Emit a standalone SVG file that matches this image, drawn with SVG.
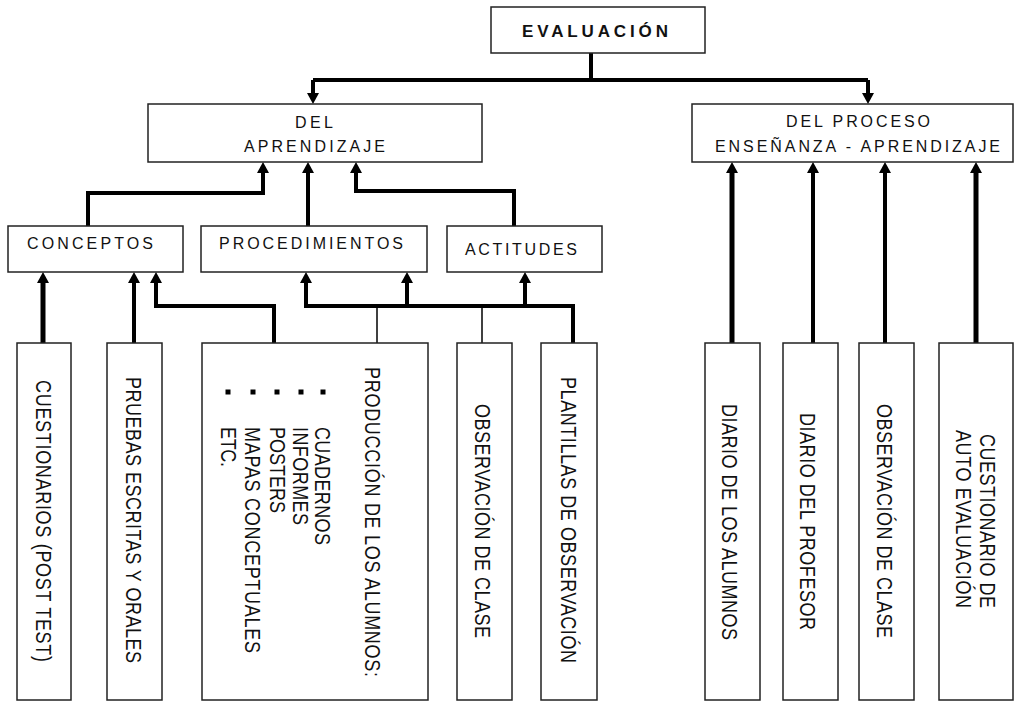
<svg xmlns="http://www.w3.org/2000/svg" width="1015" height="702" viewBox="0 0 1015 702">
<style>
.box{fill:#fff;stroke:#222;stroke-width:1.5}
.t{font-family:"Liberation Sans",Arial,sans-serif;font-size:16px;fill:#111}
.v{font-family:"Liberation Sans",Arial,sans-serif;font-size:18px;fill:#111}
.b{font-weight:bold;font-size:17px}
.w{fill:none;stroke:#000;stroke-width:4}
.w5{fill:none;stroke:#000;stroke-width:5}
.n{fill:none;stroke:#000;stroke-width:1.5}
</style>
<defs>
<marker id="ah" viewBox="0 0 11 12" refX="0" refY="6" markerWidth="11" markerHeight="12" markerUnits="userSpaceOnUse" orient="auto">
<path d="M0,0 L11,6 L0,12 z" fill="#000"/>
</marker>
</defs>
<g id="connectors">
<path class="w" d="M591,53 V80"/>
<path class="w" d="M313,80 H868"/>
<path class="w" d="M313,80 V93" marker-end="url(#ah)"/>
<path class="w" d="M868,80 V93" marker-end="url(#ah)"/>
<path class="w" d="M88,226 V193 H263 V173" marker-end="url(#ah)"/>
<path class="w" d="M308,226 V173" marker-end="url(#ah)"/>
<path class="w" d="M514,226 V191 H356 V173" marker-end="url(#ah)"/>
<path class="w5" d="M43,343 V283" marker-end="url(#ah)"/>
<path class="w" d="M134,343 V283" marker-end="url(#ah)"/>
<path class="w" d="M274,343 V306 H156 V283" marker-end="url(#ah)"/>
<path class="w" d="M573,343 V306 H306 V283" marker-end="url(#ah)"/>
<path class="w" d="M407,306 V283" marker-end="url(#ah)"/>
<path class="w" d="M525,306 V283" marker-end="url(#ah)"/>
<path class="n" d="M377,306 V343"/>
<path class="n" d="M482,306 V343"/>
<path class="w5" d="M732,343 V173" marker-end="url(#ah)"/>
<path class="w" d="M813,343 V173" marker-end="url(#ah)"/>
<path class="w" d="M885,343 V173" marker-end="url(#ah)"/>
<path class="w5" d="M976,343 V173" marker-end="url(#ah)"/>
</g>
<g id="evaluacion">
<rect class="box" x="491" y="7" width="214" height="46"/>
<text class="t b" x="522" y="37" textLength="146" lengthAdjust="spacing">EVALUACIÓN</text>
</g>
<g id="del-aprendizaje">
<rect class="box" x="148" y="104" width="334" height="58"/>
<text class="t" x="295" y="128" textLength="38" lengthAdjust="spacing">DEL</text>
<text class="t" x="244" y="152" textLength="141" lengthAdjust="spacing">APRENDIZAJE</text>
</g>
<g id="del-proceso">
<rect class="box" x="692" y="104" width="321" height="58"/>
<text class="t" x="786" y="127" textLength="144" lengthAdjust="spacing">DEL PROCESO</text>
<text class="t" x="715" y="152" textLength="285" lengthAdjust="spacing">ENSEÑANZA - APRENDIZAJE</text>
</g>
<g id="conceptos">
<rect class="box" x="8" y="226" width="175" height="46"/>
<text class="t" x="27" y="249" textLength="126" lengthAdjust="spacing">CONCEPTOS</text>
</g>
<g id="procedimientos">
<rect class="box" x="201" y="226" width="226" height="46"/>
<text class="t" x="219" y="249" textLength="184" lengthAdjust="spacing">PROCEDIMIENTOS</text>
</g>
<g id="actitudes">
<rect class="box" x="447" y="226" width="155" height="46"/>
<text class="t" x="465" y="255" textLength="112" lengthAdjust="spacing">ACTITUDES</text>
</g>
<g id="cuestionarios">
<rect class="box" x="17" y="343" width="54" height="357"/>
<text class="v" transform="translate(35.5,380) rotate(90) scale(1,1.18)" textLength="282" lengthAdjust="spacing">CUESTIONARIOS (POST TEST)</text>
</g>
<g id="pruebas">
<rect class="box" x="107" y="343" width="55" height="357"/>
<text class="v" transform="translate(126,377) rotate(90) scale(1,1.18)" textLength="286" lengthAdjust="spacing">PRUEBAS ESCRITAS Y ORALES</text>
</g>
<g id="produccion">
<rect class="box" x="202" y="343" width="226" height="357"/>
<text class="v" transform="translate(365,367) rotate(90) scale(1,1.18)" textLength="310" lengthAdjust="spacing">PRODUCCIÓN DE LOS ALUMNOS:</text>
<rect x="320.5" y="389.5" width="5" height="5" fill="#000"/>
<rect x="298.5" y="389.5" width="5" height="5" fill="#000"/>
<rect x="274.5" y="389.5" width="5" height="5" fill="#000"/>
<rect x="250.5" y="389.5" width="5" height="5" fill="#000"/>
<rect x="225.5" y="389.5" width="5" height="5" fill="#000"/>
<text class="v" transform="translate(314.5,427) rotate(90) scale(1,1.18)" textLength="118" lengthAdjust="spacing">CUADERNOS</text>
<text class="v" transform="translate(292.5,427) rotate(90) scale(1,1.18)" textLength="98" lengthAdjust="spacing">INFORMES</text>
<text class="v" transform="translate(269.5,427) rotate(90) scale(1,1.18)" textLength="86" lengthAdjust="spacing">POSTERS</text>
<text class="v" transform="translate(244.5,427) rotate(90) scale(1,1.18)" textLength="226" lengthAdjust="spacing">MAPAS CONCEPTUALES</text>
<text class="v" transform="translate(220.5,427) rotate(90) scale(1,1.18)" textLength="40" lengthAdjust="spacing">ETC.</text>
</g>
<g id="observacion-1">
<rect class="box" x="457" y="343" width="55" height="357"/>
<text class="v" transform="translate(474.5,404) rotate(90) scale(1,1.18)" textLength="234" lengthAdjust="spacing">OBSERVACIÓN DE CLASE</text>
</g>
<g id="plantillas">
<rect class="box" x="541" y="343" width="56" height="357"/>
<text class="v" transform="translate(560.5,377) rotate(90) scale(1,1.18)" textLength="286" lengthAdjust="spacing">PLANTILLAS DE OBSERVACIÓN</text>
</g>
<g id="diario-alumnos">
<rect class="box" x="705" y="343" width="55" height="357"/>
<text class="v" transform="translate(721.5,404) rotate(90) scale(1,1.18)" textLength="236" lengthAdjust="spacing">DIARIO DE LOS ALUMNOS</text>
</g>
<g id="diario-profesor">
<rect class="box" x="783" y="343" width="55" height="357"/>
<text class="v" transform="translate(799.5,413) rotate(90) scale(1,1.18)" textLength="217" lengthAdjust="spacing">DIARIO DEL PROFESOR</text>
</g>
<g id="observacion-2">
<rect class="box" x="859" y="343" width="55" height="357"/>
<text class="v" transform="translate(876.5,404) rotate(90) scale(1,1.18)" textLength="234" lengthAdjust="spacing">OBSERVACIÓN DE CLASE</text>
</g>
<g id="cuestionario-auto">
<rect class="box" x="939" y="343" width="74" height="357"/>
<text class="v" transform="translate(979.5,434) rotate(90) scale(1,1.18)" textLength="174" lengthAdjust="spacing">CUESTIONARIO DE</text>
<text class="v" transform="translate(955.5,430) rotate(90) scale(1,1.18)" textLength="178" lengthAdjust="spacing">AUTO EVALUACIÓN</text>
</g>
</svg>
